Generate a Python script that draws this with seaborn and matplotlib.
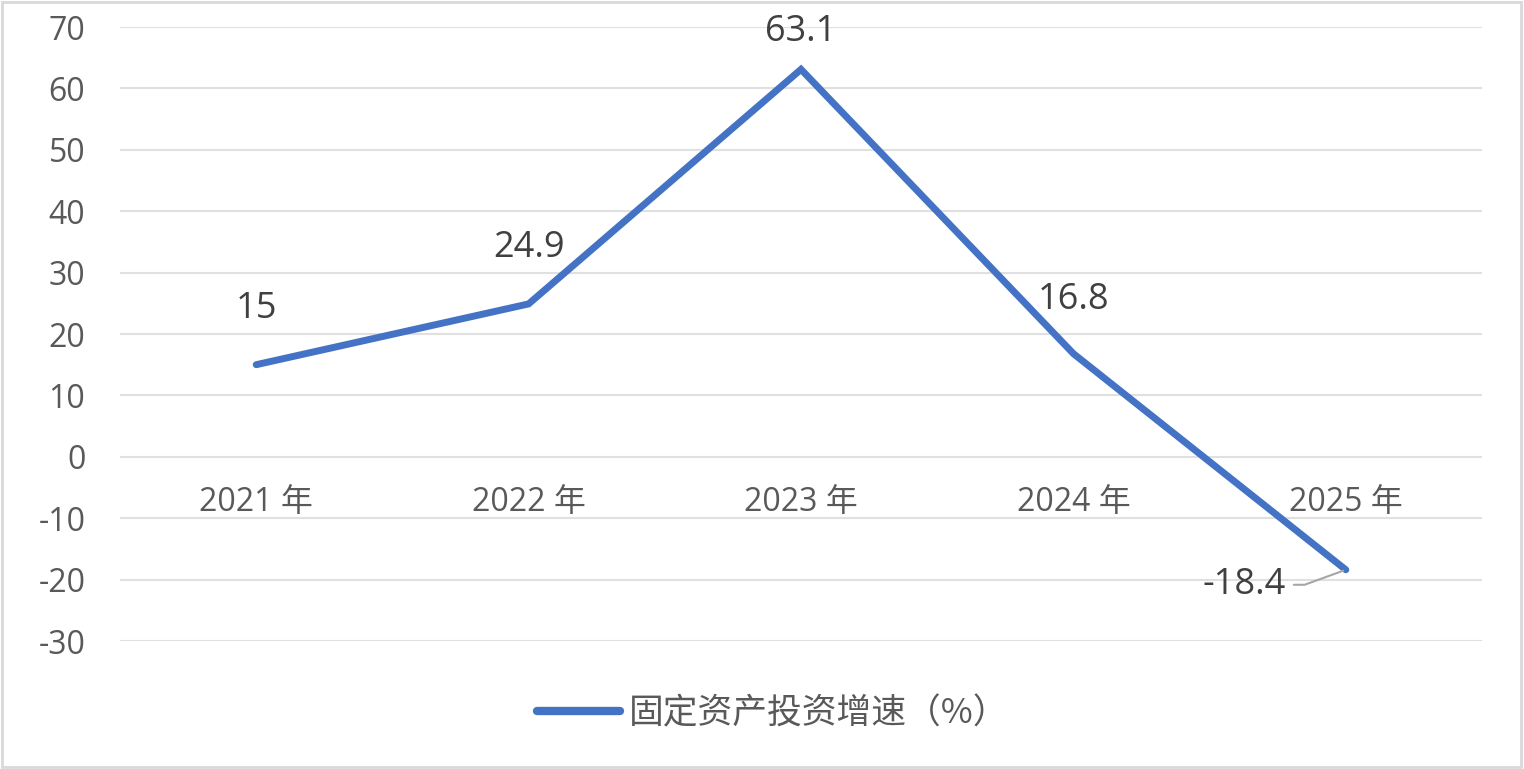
import matplotlib
matplotlib.use("Agg")
import matplotlib.pyplot as plt
import seaborn as sns
import pandas as pd
from matplotlib.patches import Rectangle

categories = ["2021 年", "2022 年", "2023 年", "2024 年", "2025 年"]
values = [15, 24.9, 63.1, 16.8, -18.4]
series_name = "固定资产投资增速（%）"
y_ticks = [-30, -20, -10, 0, 10, 20, 30, 40, 50, 60, 70]

sns.set_theme(style="white")
plt.rcParams['font.family'] = ['Open Sans', 'Noto Sans CJK SC', 'DejaVu Sans']

fig = plt.figure(figsize=(15.24, 7.69), dpi=100)
ax = fig.add_axes([120/1524, 1-641/769, (1482-120)/1524, (641-27)/769])

df = pd.DataFrame({"pos": range(len(categories)), "val": values, "series": series_name})
sns.lineplot(data=df, x="pos", y="val", hue="series", palette=["#4472C4"],
             linewidth=5, ax=ax, solid_capstyle="round", solid_joinstyle="miter")

ax.set_xlim(-0.5, len(categories) - 0.5)
ax.set_ylim(-30, 70)
ax.set_yticks(y_ticks)
ax.set_yticklabels([str(t) for t in y_ticks])
ax.set_xticks(range(len(categories)))
ax.set_xticklabels(categories)
ax.set_xlabel("")
ax.set_ylabel("")

for t in y_ticks:
    ax.axhline(t, color="#e0e0e0", linewidth=1.5, zorder=0)

for s in ["top", "right", "left"]:
    ax.spines[s].set_visible(False)
ax.spines["bottom"].set_position(("data", 0))
ax.spines["bottom"].set_visible(False)

ax.tick_params(axis="y", length=0, pad=25, labelsize=23, labelcolor="#595959")
ax.tick_params(axis="x", length=0, pad=21, labelsize=23, labelcolor="#595959")

# data labels
offsets = [(0, 56), (0, 56), (0, 37), (0, 54), (-102, -15)]
for i, (v, off) in enumerate(zip(values, offsets)):
    label = f"{v:g}"
    if i == len(values) - 1:
        ax.annotate(label, xy=(i, v), xytext=off, textcoords="offset pixels",
                    ha="center", va="center", fontsize=26, color="#404040",
                    arrowprops=dict(arrowstyle="-", color="#a6a6a6", lw=1.5,
                                    shrinkA=0, shrinkB=2,
                                    connectionstyle="angle,angleA=0,angleB=20,rad=0",
                                    relpos=(1.1, 0.5)))
    else:
        ax.annotate(label, xy=(i, v), xytext=off, textcoords="offset pixels",
                    ha="center", va="center", fontsize=26, color="#404040")

leg = ax.legend(loc="center", bbox_to_anchor=(0.507, 1 - 714/769),
                bbox_transform=fig.transFigure, frameon=False,
                fontsize=25, handlelength=2.4, handletextpad=0.25)
for txt in leg.get_texts():
    txt.set_color("#595959")
    txt.set_family(['Noto Sans CJK SC', 'DejaVu Sans'])
    txt.set_fontweight("light")
for h in leg.get_lines():
    h.set_linewidth(6)

fig.patches.append(Rectangle((0.001, 0.002), 0.997, 0.995, transform=fig.transFigure,
                             fill=False, edgecolor="#d9d9d9", linewidth=2))

fig.savefig("out.png", dpi=100)
